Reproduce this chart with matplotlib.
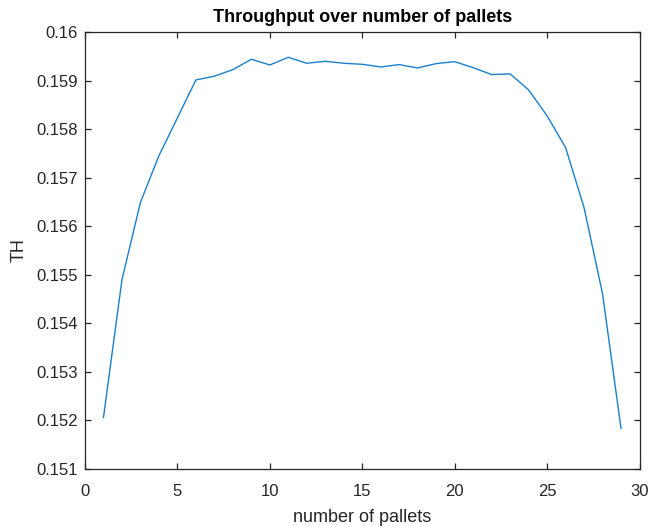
import matplotlib
matplotlib.use("Agg")
import matplotlib.pyplot as plt

pallets = list(range(1, 30))
throughput = [0.152062, 0.154900, 0.156492, 0.157452, 0.158232, 0.159013, 0.159090,
              0.159225, 0.159438, 0.159321, 0.159479, 0.159356, 0.159397, 0.159356,
              0.159335, 0.159280, 0.159328, 0.159260, 0.159349, 0.159389, 0.159266,
              0.159123, 0.159137, 0.158808, 0.158273, 0.157622, 0.156383, 0.154610,
              0.151836]
xticks = [0, 5, 10, 15, 20, 25, 30]
yticks = [0.151, 0.152, 0.153, 0.154, 0.155, 0.156, 0.157, 0.158, 0.159, 0.160]
yticklabels = ["0.151", "0.152", "0.153", "0.154", "0.155", "0.156", "0.157", "0.158", "0.159", "0.16"]

plt.rcParams['font.family'] = ['Liberation Sans', 'DejaVu Sans']
fig = plt.figure(figsize=(6.5, 5.26), dpi=100)
ax = fig.add_axes([85/650, 1 - 469/526, (639.5 - 85)/650, (469 - 32)/526])
ax.plot(pallets, throughput, color=(0.1, 0.5, 0.8), linewidth=1.0)
ax.set_xlim(0, 30)
ax.set_ylim(0.151, 0.160)
ax.set_xticks(xticks)
ax.set_yticks(yticks)
ax.set_yticklabels(yticklabels)
dark = (0.15, 0.15, 0.15)
for s in ax.spines.values():
    s.set_color(dark)
    s.set_linewidth(0.9)
ax.tick_params(direction='in', top=True, right=True, length=4, width=0.9,
               colors=dark, labelsize=12, pad=5)
ax.tick_params(axis='x', pad=11)
ax.set_xlabel("number of pallets", fontsize=13, color=dark, labelpad=7)
ax.set_ylabel("TH", fontsize=13, color=dark, labelpad=6)
ax.set_title("Throughput over number of pallets", fontsize=13, fontweight='bold', pad=7)
fig.savefig("out.png", dpi=100)
